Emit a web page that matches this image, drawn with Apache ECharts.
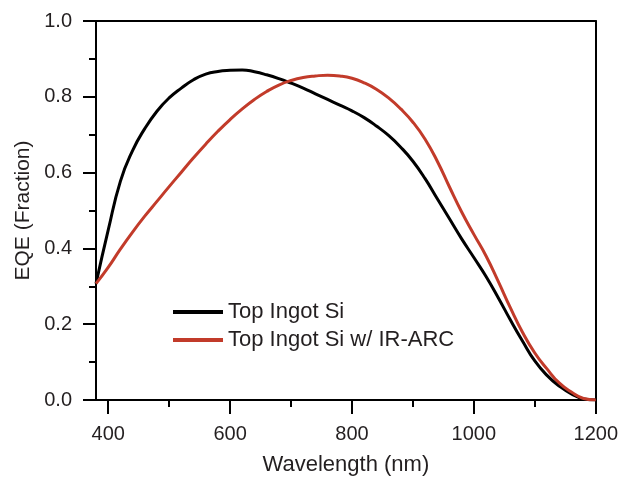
<!DOCTYPE html>
<html>
<head>
<meta charset="utf-8">
<script src="https://cdn.jsdelivr.net/npm/echarts@6/dist/echarts.min.js"></script>
<style>
  html, body { margin: 0; padding: 0; background: #fff; }
  #chart { width: 621px; height: 481px; }
</style>
</head>
<body>
<div id="chart"></div>
<script>
// Wavelength (nm) grid the curves were read at
const wavelengths = [380, 400, 420, 440, 460, 480, 500, 520, 540, 560, 580, 600, 620, 640, 660, 680, 700,
    720, 740, 760, 780, 800, 820, 840, 860, 880, 900, 920, 940, 960, 980, 1000, 1020, 1040, 1060, 1080,
    1100, 1120, 1140, 1160, 1180, 1200];

// EQE
const topIngot = [0.307, 0.448, 0.577, 0.658, 0.716, 0.762, 0.797, 0.823, 0.845, 0.860, 0.867, 0.870,
    0.871, 0.866, 0.858, 0.848, 0.836, 0.823, 0.808, 0.793, 0.778, 0.763, 0.745, 0.723, 0.698, 0.667,
    0.630, 0.584, 0.531, 0.478, 0.425, 0.376, 0.326, 0.270, 0.211, 0.155, 0.103, 0.065, 0.037, 0.016,
    0.003, 0.0];
const topIngotArc = [0.307, 0.350, 0.398, 0.443, 0.485, 0.524, 0.563, 0.601, 0.639, 0.675, 0.709, 0.740,
    0.768, 0.793, 0.814, 0.831, 0.843, 0.851, 0.855, 0.857, 0.855, 0.849, 0.837, 0.820, 0.797, 0.768,
    0.733, 0.688, 0.630, 0.562, 0.496, 0.437, 0.380, 0.313, 0.243, 0.178, 0.124, 0.082, 0.045, 0.021,
    0.004, 0.0];

const seriesNames = ['Top Ingot Si', 'Top Ingot Si w/ IR-ARC'];
const xMajorTicks = [400, 600, 800, 1000, 1200];
const xMinorTicks = [500, 700, 900, 1100];

const chart = echarts.init(document.getElementById('chart'));

const font = '"Liberation Sans", Arial, sans-serif';
const ink = '#231f20';
const axisLine = { show: true, lineStyle: { color: '#000', width: 2 } };

function pairs(ys) {
    return wavelengths.map((x, i) => [x, ys[i]]);
}

const option = {
    backgroundColor: '#fff',
    animation: false,
    textStyle: { fontFamily: font },
    grid: { left: 96, right: 25, top: 21, bottom: 79 },
    legend: {
        orient: 'vertical',
        left: 173,
        top: 301,
        padding: 0,
        itemWidth: 50,
        itemHeight: 4,
        itemGap: 6,
        icon: 'rect',
        textStyle: { fontSize: 22, color: ink, fontFamily: font },
        data: seriesNames
    },
    xAxis: [
        {
            type: 'value',
            position: 'bottom',
            min: 380,
            max: 1200,
            axisLine: axisLine,
            axisTick: { show: true, length: 14, customValues: xMajorTicks, lineStyle: { color: '#000', width: 2 } },
            axisLabel: {
                customValues: xMajorTicks, fontSize: 20, color: ink, margin: 24, fontFamily: font,
                formatter: v => String(v)
            },
            splitLine: { show: false },
            name: 'Wavelength (nm)',
            nameLocation: 'middle',
            nameGap: 54,
            nameTextStyle: { fontSize: 22, color: ink, fontFamily: font }
        },
        {
            type: 'value',
            position: 'bottom',
            min: 380,
            max: 1200,
            axisLine: { show: false },
            axisTick: { show: true, length: 7, customValues: xMinorTicks, lineStyle: { color: '#000', width: 2 } },
            axisLabel: { show: false },
            splitLine: { show: false }
        },
        {
            type: 'value',
            position: 'top',
            min: 380,
            max: 1200,
            axisLine: axisLine,
            axisTick: { show: false },
            axisLabel: { show: false },
            splitLine: { show: false }
        }
    ],
    yAxis: [
        {
            type: 'value',
            position: 'left',
            min: 0,
            max: 1,
            interval: 0.2,
            axisLine: axisLine,
            axisTick: { show: true, length: 13, lineStyle: { color: '#000', width: 2 } },
            minorTick: { show: true, splitNumber: 2, length: 7, lineStyle: { color: '#000', width: 2 } },
            axisLabel: {
                fontSize: 20, color: ink, margin: 24, fontFamily: font,
                formatter: v => v.toFixed(1)
            },
            splitLine: { show: false },
            name: 'EQE (Fraction)',
            nameLocation: 'middle',
            nameGap: 62,
            nameTextStyle: { fontSize: 21, color: ink, fontFamily: font }
        },
        {
            type: 'value',
            position: 'right',
            min: 0,
            max: 1,
            axisLine: axisLine,
            axisTick: { show: false },
            axisLabel: { show: false },
            splitLine: { show: false }
        }
    ],
    series: [
        {
            name: seriesNames[0],
            type: 'line',
            xAxisIndex: 0,
            yAxisIndex: 0,
            smooth: true,
            showSymbol: false,
            color: '#000',
            lineStyle: { color: '#000', width: 3 },
            data: pairs(topIngot)
        },
        {
            name: seriesNames[1],
            type: 'line',
            xAxisIndex: 0,
            yAxisIndex: 0,
            smooth: true,
            showSymbol: false,
            color: '#c23b2a',
            lineStyle: { color: '#c23b2a', width: 3 },
            data: pairs(topIngotArc)
        }
    ]
};

chart.setOption(option);
</script>
</body>
</html>
